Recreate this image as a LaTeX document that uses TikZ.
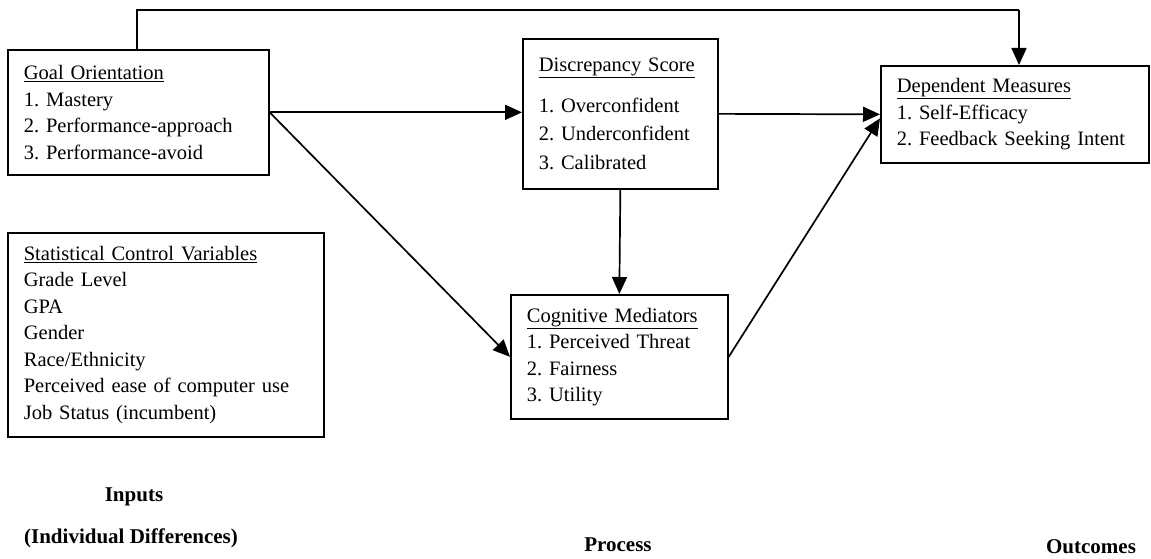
\documentclass[tikz,border=0pt]{standalone}
\usepackage{fontspec}
\setmainfont{Liberation Serif}
\usetikzlibrary{arrows.meta}
\frenchspacing
\begin{document}
\begin{tikzpicture}[x=1pt,y=-1pt,
  box/.style={draw, line width=1.7pt, anchor=north west, align=left, inner xsep=16pt, inner ysep=0pt,
    font=\fontsize{20.5}{26.5}\selectfont},
  line/.style={line width=1.7pt},
  arr/.style={line width=1.7pt, -{Triangle[length=17pt,width=15pt]}},
  lab/.style={font=\fontsize{21}{24}\selectfont\bfseries}]
\useasboundingbox (0,0) rectangle (1151,559);
\node[box, text width=229pt, minimum width=261pt, minimum height=125pt] (goal) at (7,49)
  {\underline{Goal Orientation}\\1. Mastery\\2. Performance-approach\\3. Performance-avoid};
\node[box, text width=163pt, minimum width=195pt, minimum height=150pt] (disc) at (522,38)
  {\underline{Discrepancy Score}\\[14pt]1. Overconfident\\[2pt]2. Underconfident\\[2pt]3. Calibrated};
\node[box, text width=236pt, minimum width=268pt, minimum height=97pt] (dep) at (880,65)
  {\underline{Dependent Measures}\\1. Self-Efficacy\\2. Feedback Seeking Intent};
\node[box, text width=185pt, minimum width=217pt, minimum height=124pt] (cog) at (510,294)
  {\underline{Cognitive Mediators}\\1. Perceived Threat\\2. Fairness\\3. Utility};
\node[box, text width=284pt, minimum width=316pt, minimum height=204pt] (stat) at (7,232)
  {\underline{Statistical Control Variables}\\Grade Level\\GPA\\Gender\\Race/Ethnicity\\Perceived ease of computer use\\Job Status (incumbent)};
\node[lab] (inp) at (134,497) {Inputs};
\node[lab] (ind) at (131,538) {(Individual Differences)};
\node[lab] (proc) at (618,545) {Process};
\node[lab] (outc) at (1091,547) {Outcomes};
\coordinate (tl) at (137,10);
\coordinate (tr) at (1019,10);
\draw[line] (goal.north -| tl) -- (tl) -- (tr);
\draw[arr] (tr) -- (dep.north -| tr);
\draw[arr] (goal.east) -- (goal.east -| disc.west);
\draw[arr] (disc.east) -- (dep.west);
\draw[arr] (goal.east) -- (cog.west);
\draw[arr] (disc.south) -- (cog.north);
\draw[arr] (cog.east) -- ([yshift=-4pt]dep.west);
\end{tikzpicture}
\end{document}
